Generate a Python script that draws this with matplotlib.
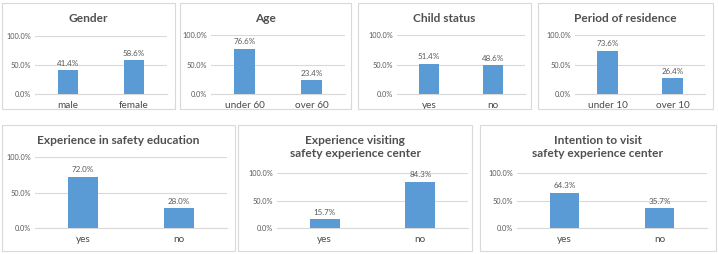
import matplotlib
matplotlib.use("Agg")
import matplotlib.pyplot as plt
from matplotlib.patches import Rectangle

plt.rcParams['font.family'] = ['Lato', 'DejaVu Sans']

titles = ["Gender", "Age", "Child status", "Period of residence",
          "Experience in safety education",
          "Experience visiting\nsafety experience center",
          "Intention to visit\nsafety experience center"]
categories = [["male", "female"], ["under 60", "over 60"], ["yes", "no"],
              ["under 10", "over 10"], ["yes", "no"], ["yes", "no"], ["yes", "no"]]
values = [[41.4, 58.6], [76.6, 23.4], [51.4, 48.6], [73.6, 26.4],
          [72.0, 28.0], [15.7, 84.3], [64.3, 35.7]]
yticks = [0, 50, 100]
ytick_labels = ["0.0%", "50.0%", "100.0%"]

W, H = 718, 254
fig = plt.figure(figsize=(W / 100, H / 100), dpi=100)

# layout in pixels: box (x0,y0,x1,y1), axes (x0,x1,ytop,ybottom), title y
boxes = [(2, 3, 175, 109), (180, 3, 351, 109), (358, 3, 531, 109), (538, 3, 713, 109),
         (2, 125, 235, 251), (238, 125, 472, 251), (480, 125, 716, 251)]
axes_px = [(35, 167, 36, 94), (211, 345, 35, 94), (397, 525, 35, 94), (575, 705, 35, 94),
           (35, 227, 157, 228), (277, 468, 173, 228), (517, 707, 173, 228)]
title_y = [18, 18, 18, 18, 140, 147, 147]

bar_color = "#5B9BD5"
txt = "#595959"
grid = "#D9D9D9"

for i in range(7):
    bx0, by0, bx1, by1 = boxes[i]
    fig.add_artist(Rectangle((bx0 / W, 1 - by1 / H), (bx1 - bx0) / W, (by1 - by0) / H,
                             transform=fig.transFigure, fill=False,
                             edgecolor=grid, linewidth=0.8))
    ax0, ax1, at, ab = axes_px[i]
    ax = fig.add_axes([ax0 / W, 1 - ab / H, (ax1 - ax0) / W, (ab - at) / H])
    x = range(len(categories[i]))
    ax.bar(x, values[i], width=0.31, color=bar_color, zorder=3)
    ax.set_xlim(-0.5, 1.5)
    ax.set_ylim(0, 100)
    ax.set_yticks(yticks)
    ax.set_yticklabels(ytick_labels)
    ax.set_xticks(list(x))
    ax.set_xticklabels(categories[i])
    ax.tick_params(axis='y', length=0, labelsize=5.3, labelcolor=txt, pad=3)
    ax.tick_params(axis='x', length=0, labelsize=7.2, labelcolor="#4a4a4a", pad=5)
    for s in ['top', 'right', 'left']:
        ax.spines[s].set_visible(False)
    ax.spines['bottom'].set_color(grid)
    ax.spines['bottom'].set_linewidth(0.8)
    ax.grid(axis='y', color=grid, linewidth=0.8, zorder=0)
    ax.set_axisbelow(True)
    for xi, v in zip(x, values[i]):
        ax.annotate(f"{v:.1f}%", (xi, v), xytext=(0, 2.5), textcoords='offset points',
                    ha='center', va='bottom', fontsize=5.8, color=txt)
    cx = (bx0 + bx1) / 2 / W
    fig.text(cx, 1 - title_y[i] / H, titles[i], ha='center', va='center',
             fontsize=8.6, fontweight='bold', color="#505050", linespacing=1.2)

fig.savefig("out.png", dpi=100, facecolor="white")
